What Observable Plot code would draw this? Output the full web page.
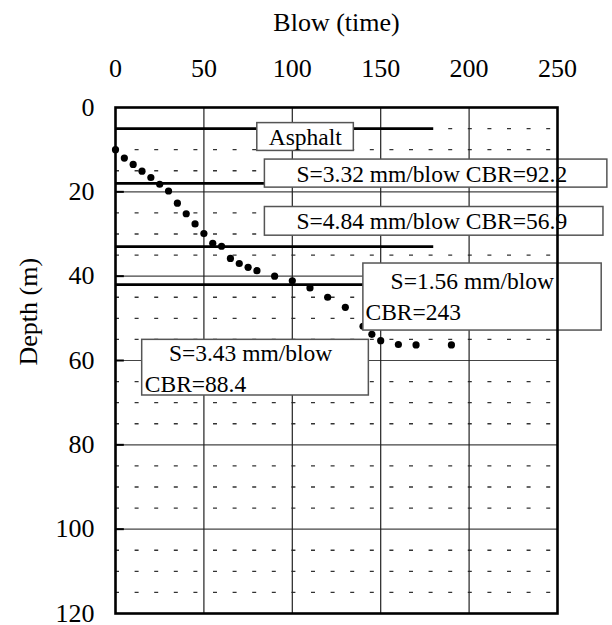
<!DOCTYPE html>
<html>
<head>
<meta charset="utf-8">
<script src="https://cdn.jsdelivr.net/npm/d3@7"></script>
<script src="https://cdn.jsdelivr.net/npm/@observablehq/plot@0.6"></script>
<style>
  body { margin: 0; background: #fff; }
  #chart svg { display: block; }
  #chart svg, #chart svg text { font-family: 'Liberation Serif', 'Times New Roman', Times, serif !important; }
</style>
</head>
<body>
<div id="chart"></div>
<script>
// ---- data ----
const blows  = [0, 5, 10, 15, 20, 25, 30, 35, 40, 45, 50, 55, 60, 65, 70, 75, 80, 90, 100, 110, 120, 130, 140, 145, 150, 160, 170, 190];
const depths = [10, 12, 13.5, 15.1, 16.6, 18.2, 19.8, 22.7, 25.2, 27.6, 29.9, 32.2, 32.9, 35.8, 37, 37.9, 38.7, 40, 41.1, 42.8, 45, 47.4, 51.9, 53.8, 55.3, 56.2, 56.3, 56.3];

const layerDepths = [5, 18, 33, 42];
const layerEndBlow = 180;

const xTicks = [0, 50, 100, 150, 200, 250];
const yTicks = [0, 20, 40, 60, 80, 100, 120];
const minorDepths = [5, 10, 15, 25, 30, 35, 45, 50, 55, 65, 70, 75, 85, 90, 95, 105, 110, 115];

// annotation boxes (data units: blow, depth)
const boxX1 = [80.2, 84.5, 84.5, 140.2, 15.1];
const boxX2 = [134.8, 278.2, 276.0, 275.0, 143.3];
const boxY1 = [3.7, 12.35, 23.6, 37.0, 55.1];
const boxY2 = [10.3, 19.0, 30.4, 52.9, 68.3];

// annotation text lines
const lineText   = ["Asphalt", "S=3.32 mm/blow CBR=92.2", "S=4.84 mm/blow CBR=56.9", "S=1.56 mm/blow", "CBR=243", "S=3.43 mm/blow", "CBR=88.4"];
const lineX      = [107.3, 178.9, 178.9, 155.6, 141.4, 30.2, 16.6];
const lineY      = [8.95, 17.66, 28.7, 43.0, 50.3, 60.2, 67.5];
const lineCentered = [true, true, true, false, false, false, false];

// ---- build tables ----
const points = blows.map((b, i) => ({blow: b, depth: depths[i]}));
const layers = layerDepths.map(d => ({depth: d, end: layerEndBlow}));
const boxes = boxX1.map((x1, i) => ({x1, x2: boxX2[i], y1: boxY1[i], y2: boxY2[i]}));
const lines = lineText.map((t, i) => ({text: t, x: lineX[i], y: lineY[i], centered: lineCentered[i]}));
const majorInner = yTicks.filter(d => d > 0 && d < 120);
const vertGrid = xTicks.filter(d => d > 0 && d < 250);

const FONT = "'Liberation Serif', 'Times New Roman', Times, serif";

const chart = Plot.plot({
  width: 612,
  height: 625,
  marginLeft: 115,
  marginRight: 55,
  marginTop: 107,
  marginBottom: 12,
  style: {fontFamily: FONT, fontSize: "26px", background: "#fff", color: "#000"},
  x: {domain: [0, 250]},
  y: {domain: [0, 120], reverse: true},
  marks: [
    // minor dashed horizontal grid
    Plot.ruleY(minorDepths, {x1: 0, x2: 250, stroke: "#333", strokeWidth: 1.3, strokeDasharray: "4,15.6"}),
    // major horizontal grid
    Plot.ruleY(majorInner, {x1: 0, x2: 250, stroke: "#444", strokeWidth: 1.2}),
    // vertical grid
    Plot.ruleX(vertGrid, {y1: 0, y2: 120, stroke: "#222", strokeWidth: 1.2}),
    // inward major ticks on the left
    Plot.ruleY(majorInner, {x1: 0, x2: 5, stroke: "#000", strokeWidth: 2}),
    // layer boundaries
    Plot.ruleY(layers, {y: "depth", x1: 0, x2: "end", stroke: "#000", strokeWidth: 2.6}),
    // data points
    Plot.dot(points, {x: "blow", y: "depth", r: 3.6, fill: "#000", stroke: "none"}),
    // annotation boxes
    Plot.rect(boxes, {x1: "x1", x2: "x2", y1: "y1", y2: "y2", fill: "#fff", stroke: "#555", strokeWidth: 1.5}),
    Plot.text(lines.filter(d => d.centered), {x: "x", y: "y", text: "text", textAnchor: "middle", lineAnchor: "bottom", fontSize: 23.5, fontFamily: FONT, fill: "#000"}),
    Plot.text(lines.filter(d => !d.centered), {x: "x", y: "y", text: "text", textAnchor: "start", lineAnchor: "bottom", fontSize: 23.5, fontFamily: FONT, fill: "#000"}),
    // axes
    Plot.axisX({anchor: "top", ticks: xTicks, tickSize: 0, tickPadding: 31, fontSize: 26, fontFamily: FONT, label: null}),
    Plot.axisY({anchor: "left", ticks: yTicks, tickSize: 0, tickPadding: 21, fontSize: 26, fontFamily: FONT, label: null}),
    Plot.text(["Blow (time)"], {frameAnchor: "top", dy: -85, lineAnchor: "middle", fontSize: 26, fontFamily: FONT, fill: "#000"}),
    Plot.text(["Depth (m)"], {frameAnchor: "left", dx: -87, dy: 5, rotate: -90, lineAnchor: "middle", fontSize: 26, fontFamily: FONT, fill: "#000"}),
    Plot.frame({stroke: "#000", strokeWidth: 2.6})
  ]
});

document.getElementById("chart").appendChild(chart);
</script>
</body>
</html>
